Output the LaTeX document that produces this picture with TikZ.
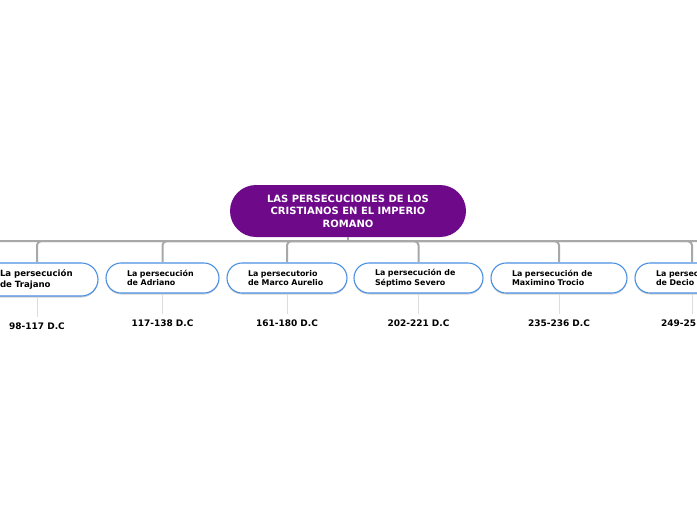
\documentclass[tikz,border=0pt]{standalone}
\usepackage{fontspec}
\setmainfont{DejaVu Sans}
\usepackage{xcolor}
\definecolor{purple1}{HTML}{6E0A8A}
\definecolor{blue1}{HTML}{4A90E2}
\definecolor{gray1}{HTML}{A8A8A8}
\definecolor{gray2}{HTML}{DCDCDC}
\usepackage{tikz}
\usetikzlibrary{positioning,shadows}

\begin{document}
\begin{tikzpicture}[x=1pt,y=-1pt,
  root/.style={rectangle,rounded corners=26pt,fill=purple1,text=white,
               minimum width=236pt,minimum height=52pt,align=center,
               font=\fontsize{10}{12.5}\selectfont\bfseries},
  period/.style={rectangle,draw=blue1,line width=1.1pt,fill=white,
                 rounded corners=15pt,minimum height=30pt,inner xsep=21pt,
                 inner ysep=0pt,align=left,
                 font=\fontsize{7.9}{9.5}\selectfont\bfseries,
                 drop shadow={shadow xshift=0pt,shadow yshift=-1.5pt,
                              opacity=.18,fill=black}},
  datelabel/.style={inner sep=0pt,font=\fontsize{9}{10}\selectfont\bfseries},
  branch/.style={draw=gray1,line width=2pt,rounded corners=4pt},
  stem/.style={draw=gray2,line width=0.8pt,shorten >=6pt},
]
  \useasboundingbox (0,0) rectangle (697,520);
  \clip (0,0) rectangle (697,520);

  \node[root] (root) at (348,211) {LAS PERSECUCIONES DE LOS\\CRISTIANOS EN EL IMPERIO\\ROMANO};

  \node[period,text width=74pt,inner xsep=24pt,minimum height=33pt,
        rounded corners=16.5pt,font=\fontsize{8.6}{11}\selectfont\bfseries]
        (traj) at (37,279.5) {La persecución\\de Trajano};
  \node[period,text width=71pt] (adr) at (162.5,278) {La persecución\\de Adriano};
  \node[period,text width=78pt] (marc) at (287,278) {La persecutorio\\de Marco Aurelio};
  \node[period,text width=87pt] (sept) at (418.5,278) {La persecución de\\Séptimo Severo};
  \node[period,text width=94pt] (maxi) at (559,278) {La persecución de\\Maximino Trocio};
  \node[period,text width=72pt] (dec) at (692,278) {La persecución\\de Decio};

  \coordinate (hub) at ([yshift=-4pt]root.south);
  \coordinate (offleft) at (-70,263);
  \coordinate (offright) at (780,263);

  \draw[branch] (root.south) -- (hub);
  \foreach \n in {offleft,traj,adr,marc,sept,maxi,dec,offright}
    \draw[branch] (hub) -| (\n.north);

  % dates
  \node[datelabel,below=26pt of traj] (dtraj) {98-117 D.C};
  \node[datelabel,below=26.5pt of adr] (dadr) {117-138 D.C};
  \node[datelabel,below=26.5pt of marc] (dmarc) {161-180 D.C};
  \node[datelabel,below=26.5pt of sept] (dsept) {202-221 D.C};
  \node[datelabel,below=26.5pt of maxi] (dmaxi) {235-236 D.C};
  \node[datelabel,below=26.5pt of dec] (ddec) {249-251 D.C};

  \foreach \a/\b in {traj/dtraj,adr/dadr,marc/dmarc,sept/dsept,maxi/dmaxi,dec/ddec}
    \draw[stem] (\a.south) -- (\b.north);
\end{tikzpicture}
\end{document}
